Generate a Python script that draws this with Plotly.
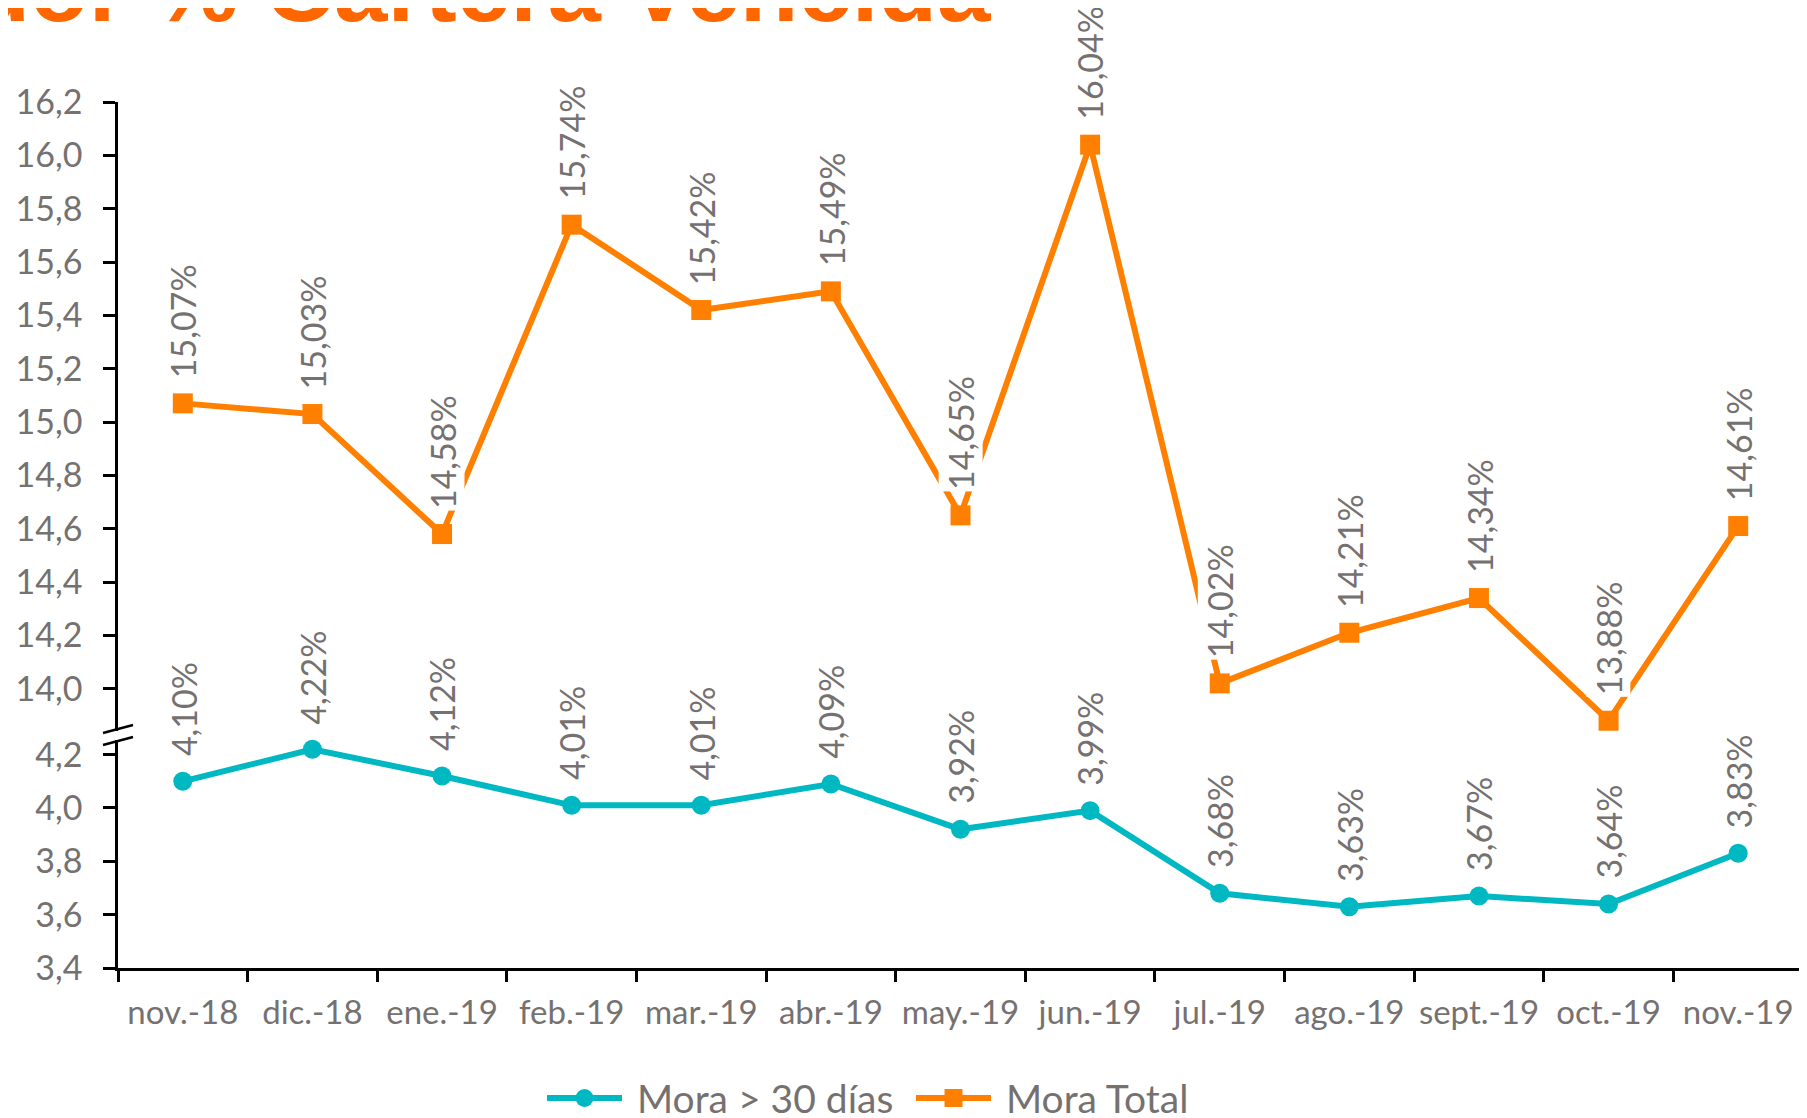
import plotly.graph_objects as go

# ---------------- data ----------------
months = ["nov.-18", "dic.-18", "ene.-19", "feb.-19", "mar.-19", "abr.-19", "may.-19",
          "jun.-19", "jul.-19", "ago.-19", "sept.-19", "oct.-19", "nov.-19"]
mora_30 = [4.10, 4.22, 4.12, 4.01, 4.01, 4.09, 3.92, 3.99, 3.68, 3.63, 3.67, 3.64, 3.83]
mora_total = [15.07, 15.03, 14.58, 15.74, 15.42, 15.49, 14.65, 16.04, 14.02, 14.21, 14.34, 13.88, 14.61]
upper_ticks = [14.0, 14.2, 14.4, 14.6, 14.8, 15.0, 15.2, 15.4, 15.6, 15.8, 16.0, 16.2]
lower_ticks = [3.4, 3.6, 3.8, 4.0, 4.2]
series_names = ["Mora > 30 días", "Mora Total"]
title_text = "Indicador % Cartera Vencida"

# ---------------- style ----------------
OFF = 8  # page body margin
W, H = 1807 - OFF, 1118 - OFF
ML, MR, MT, MB = 110, 4, 94, 150
PW, PH = W - ML - MR, H - MT - MB
PX_PER_UNIT = 266.7
TEAL = "#00B8C2"
ORANGE = "#FF8000"
GRAY = "#767171"
FONT = "Lato"


def px_x(p):  # page pixel -> paper
    return (p - OFF - ML) / PW


def px_y(p):  # page pixel -> paper
    return (MT + PH - (p - OFF)) / PH


TOP_PAGE = MT + OFF          # page y of 16.2
BOT_PAGE = MT + PH + OFF     # page y of 3.4
upper_bottom_px, lower_top_px = 731, 740
up_dom = [px_y(upper_bottom_px), 1]
lo_dom = [0, px_y(lower_top_px)]
up_range = [16.2 - (upper_bottom_px - TOP_PAGE) / PX_PER_UNIT, 16.2]
lo_range = [3.4, 3.4 + (BOT_PAGE - lower_top_px) / PX_PER_UNIT]


def fmt(v):
    return f"{v:.2f}%".replace(".", ",")


fig = go.Figure()
fig.add_trace(go.Scatter(
    x=months, y=mora_30, name=series_names[0], mode="lines+markers", yaxis="y",
    line=dict(color=TEAL, width=6), marker=dict(symbol="circle", size=19, color=TEAL),
    cliponaxis=False, showlegend=False))
fig.add_trace(go.Scatter(
    x=months, y=mora_total, name=series_names[1], mode="lines+markers", yaxis="y2",
    line=dict(color=ORANGE, width=6), marker=dict(symbol="square", size=20, color=ORANGE),
    cliponaxis=False, showlegend=False))

annotations = []
for yref, vals in [("y", mora_30), ("y2", mora_total)]:
    for m, v in zip(months, vals):
        annotations.append(dict(x=m, y=v, xref="x", yref=yref, text=fmt(v), textangle=-90,
                                showarrow=False, yanchor="bottom", xanchor="center", yshift=23,
                                bgcolor="white", borderpad=1,
                                font=dict(family=FONT, size=34, color=GRAY)))

# title (clipped at the top, as in the reference)
annotations.append(dict(x=px_x(993), y=px_y(43), xref="paper", yref="paper",
                        text="<b>" + title_text + "</b>",
                        showarrow=False, xanchor="right", yanchor="bottom",
                        font=dict(family="Liberation Sans", size=96, color="#FF6600")))

# custom legend
LEG_Y = 1098
leg_y = px_y(LEG_Y)
shapes = []
for (x0, x1, col, sym, name, tx) in [
    (547, 622, TEAL, "circle", series_names[0], 635),
    (916, 991, ORANGE, "square", series_names[1], 1004),
]:
    shapes.append(dict(type="line", xref="paper", yref="paper", x0=px_x(x0), x1=px_x(x1),
                       y0=leg_y, y1=leg_y, line=dict(color=col, width=6)))
    cx = (x0 + x1) / 2
    r = 9
    shapes.append(dict(type="circle" if sym == "circle" else "rect", xref="paper", yref="paper",
                       x0=px_x(cx - r), x1=px_x(cx + r), y0=px_y(LEG_Y + r), y1=px_y(LEG_Y - r),
                       fillcolor=col, line=dict(color=col, width=0)))
    annotations.append(dict(x=px_x(tx), y=leg_y, xref="paper", yref="paper", text=name,
                            showarrow=False, xanchor="left", yanchor="middle",
                            font=dict(family=FONT, size=39, color=GRAY)))

# axis break marks
for (y0, y1) in [(733, 725), (745, 737)]:
    shapes.append(dict(type="line", xref="paper", yref="paper", x0=px_x(103), x1=px_x(133),
                       y0=px_y(y0), y1=px_y(y1), line=dict(color="black", width=2.5)))

axis_common = dict(showline=True, linecolor="black", linewidth=2.5, ticks="outside",
                   ticklen=12, tickwidth=2.5, tickcolor="black", showgrid=False, zeroline=False,
                   tickfont=dict(family=FONT, size=34, color=GRAY), tickformat=".1f",
                   ticklabelstandoff=14, automargin=False)

fig.update_layout(
    width=W, height=H,
    margin=dict(l=ML, r=MR, t=MT, b=MB, pad=0, autoexpand=False),
    paper_bgcolor="white", plot_bgcolor="white",
    separators=",.",
    showlegend=False,
    xaxis=dict(type="category", range=[-0.5, len(months) - 0.5], showline=True, linecolor="black",
               linewidth=2.5, ticks="outside", ticklen=11, tickwidth=2.5, tickcolor="black",
               tickson="boundaries", showgrid=False, zeroline=False, anchor="y",
               tickangle=0, automargin=False,
               tickfont=dict(family=FONT, size=33, color=GRAY), ticklabelstandoff=14),
    yaxis=dict(domain=lo_dom, range=lo_range, tickvals=lower_ticks, anchor="x", **axis_common),
    yaxis2=dict(domain=up_dom, range=up_range, tickvals=upper_ticks, anchor="x", **axis_common),
    annotations=annotations,
    shapes=shapes,
)

fig.write_html("out.html")
